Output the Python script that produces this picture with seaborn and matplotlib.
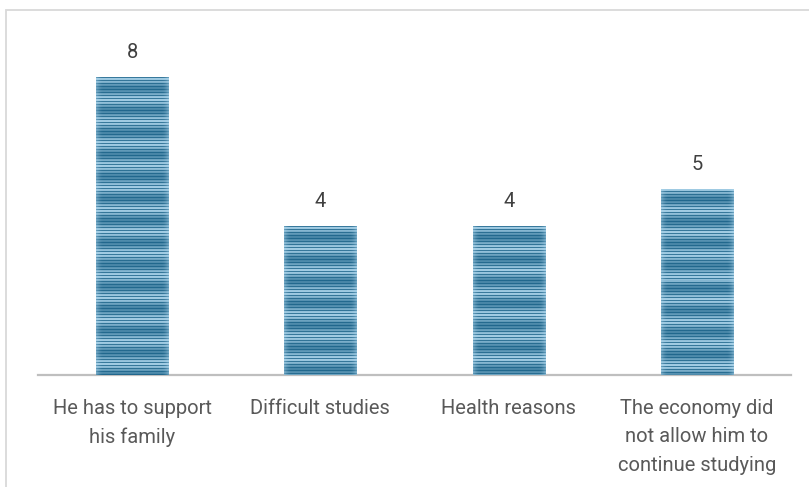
import numpy as np
import pandas as pd
import matplotlib
matplotlib.use("Agg")
import matplotlib.pyplot as plt
import seaborn as sns
from matplotlib.patches import Rectangle

categories = [
    "He has to support\nhis family",
    "Difficult studies",
    "Health reasons",
    "The economy did\nnot allow him to\ncontinue studying",
]
counts = [8, 4, 4, 5]

sns.set_theme(style="white")
plt.rcParams["font.family"] = ["Roboto", "DejaVu Sans"]

W, H, DPI = 809, 487, 100
fig = plt.figure(figsize=(W / DPI, H / DPI), dpi=DPI)
ax = fig.add_axes([38 / W, (H - 375) / H, 753 / W, 335 / H])

df = pd.DataFrame({"reason": categories, "count": counts})
sns.barplot(data=df, x="reason", y="count", ax=ax, width=0.383,
            color="#2e7ca4", saturation=1, edgecolor="none")

ax.set_xlim(-0.5, 3.5)
ax.set_ylim(0, 9)
ax.set_xlabel("")
ax.set_ylabel("")
ax.set_yticks([])
for side in ["left", "right", "top"]:
    ax.spines[side].set_visible(False)
ax.spines["bottom"].set_color("#bfbfbf")
ax.spines["bottom"].set_linewidth(1.6)
ax.tick_params(axis="x", length=0, pad=17, labelsize=14.5, labelcolor="#595959")
for lbl in ax.get_xticklabels():
    lbl.set_linespacing(1.63)
    lbl.set_verticalalignment("top")

# Striped fill for each bar, clipped to the bar outline
dark = np.array([0x1a, 0x62, 0x88]) / 255
light = np.array([0xb0, 0xd8, 0xee]) / 255
fig.canvas.draw()
for patch in ax.patches:
    bb = patch.get_window_extent()
    nrows = max(int(round(bb.height)), 2)
    ncols = max(int(round(bb.width)), 2)
    r = np.arange(nrows)[::-1]
    fine = (r % 3 == 0)
    slow = 0.5 + 0.5 * np.cos(2 * np.pi * r / 22.0)
    t = np.clip(0.3 + 0.6 * slow, 0, 1)
    t = np.where(fine, 0.05 + 0.15 * slow, t)
    rows = dark[None, :] * (1 - t[:, None]) + light[None, :] * t[:, None]
    cx = np.linspace(-1, 1, ncols)
    edge = np.clip((np.abs(cx) - 0.8) / 0.2, 0, 1) ** 2 * 0.4
    img = rows[:, None, :] * (1 - edge[None, :, None]) + light[None, None, :] * edge[None, :, None]
    x0, y0 = patch.get_x(), patch.get_y()
    im = ax.imshow(img, extent=(x0, x0 + patch.get_width(), y0, y0 + patch.get_height()),
                   origin="lower", aspect="auto", interpolation="nearest", zorder=3)
    im.set_clip_path(patch)
    patch.set_facecolor("none")

ax.set_xlim(-0.5, 3.5)
ax.set_ylim(0, 9)

for i, v in enumerate(counts):
    ax.annotate(f"{v}", xy=(i, v), xytext=(0, 11), textcoords="offset points",
                ha="center", va="bottom", fontsize=14.5, color="#404040")

fig.patches.append(Rectangle((6 / W, -0.1), 1.2, 1 - 10 / H + 0.1, transform=fig.transFigure,
                             fill=False, edgecolor="#d9d9d9", linewidth=1.3))

fig.savefig("out.png", dpi=DPI)
